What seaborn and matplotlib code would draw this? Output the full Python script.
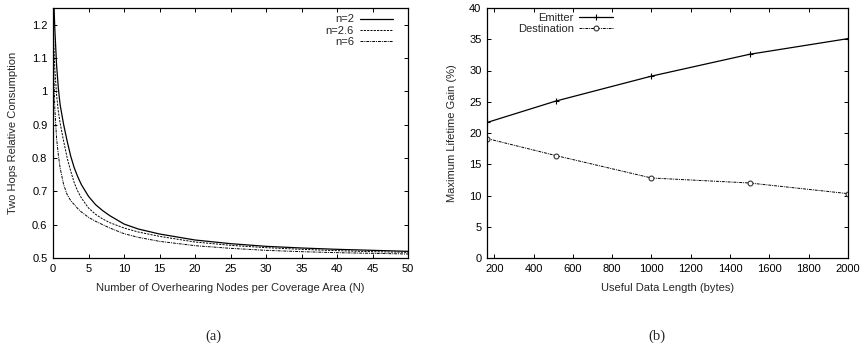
import numpy as np
import pandas as pd
import matplotlib
matplotlib.use("Agg")
import matplotlib.pyplot as plt
import seaborn as sns

# ---------------- data (a) ----------------
N_vals = [0, 0.1, 0.25, 0.5, 0.75, 1, 1.5, 2, 2.5, 3, 3.5, 4, 5, 6, 7, 8, 10, 12,
          15, 20, 25, 30, 35, 40, 45, 50]
cons_n2 = [1.35, 1.28, 1.19, 1.08, 1.01, 0.96, 0.90, 0.85, 0.805, 0.77, 0.743,
           0.72, 0.685, 0.66, 0.642, 0.627, 0.602, 0.587, 0.572, 0.554, 0.543,
           0.535, 0.530, 0.526, 0.523, 0.520]
cons_n26 = [1.25, 1.15, 1.07, 0.99, 0.94, 0.905, 0.85, 0.80, 0.76, 0.725, 0.70,
            0.68, 0.65, 0.631, 0.617, 0.606, 0.59, 0.578, 0.565, 0.548, 0.538,
            0.531, 0.526, 0.522, 0.519, 0.517]
cons_n6 = [1.2, 1.06, 0.95, 0.86, 0.81, 0.77, 0.72, 0.69, 0.672, 0.66, 0.648,
           0.638, 0.622, 0.61, 0.60, 0.59, 0.573, 0.562, 0.55, 0.537, 0.529,
           0.523, 0.519, 0.516, 0.514, 0.512]
series_a = ["n=2", "n=2.6", "n=6"]

# ---------------- data (b) ----------------
data_len = [165, 512, 1000, 1500, 2000]
emitter_gain = [21.7, 25.1, 29.1, 32.6, 35.1]
destination_gain = [19.1, 16.4, 12.8, 12.0, 10.3]

sns.set_theme(style="ticks")
plt.rcParams["font.family"] = ["Liberation Sans", "DejaVu Sans"]
plt.rcParams["font.size"] = 8

fig = plt.figure(figsize=(8.65, 3.58), dpi=100)
ax1 = fig.add_axes([53 / 865, 1 - 258 / 358, 355 / 865, 250 / 358])
ax2 = fig.add_axes([487 / 865, 1 - 258 / 358, 361 / 865, 250 / 358])

# ---- panel (a)
df_a = pd.DataFrame({
    "N": N_vals * 3,
    "val": cons_n2 + cons_n26 + cons_n6,
    "series": [series_a[0]] * len(N_vals) + [series_a[1]] * len(N_vals)
              + [series_a[2]] * len(N_vals),
})
styles_a = {"n=2": ("-", 0.9), "n=2.6": ((0, (2.2, 1.2)), 0.7),
            "n=6": ((0, (3, 1, 1, 1)), 0.7)}
for s in series_a:
    sub = df_a[df_a["series"] == s]
    ls, lw = styles_a[s]
    sns.lineplot(data=sub, x="N", y="val", ax=ax1, color="black", lw=lw,
                 label=s, linestyle=ls, estimator=None, sort=False)
ax1.set_xlim(0, 50)
ax1.set_ylim(0.5, 1.25)
ax1.set_xticks(np.arange(0, 51, 5))
ax1.set_yticks([0.5, 0.6, 0.7, 0.8, 0.9, 1.0, 1.1, 1.2])
ax1.set_yticklabels(["0.5", "0.6", "0.7", "0.8", "0.9", "1", "1.1", "1.2"])
ax1.set_xlabel("Number of Overhearing Nodes per Coverage Area (N)", fontsize=8,
               labelpad=7)
ax1.set_ylabel("Two Hops Relative Consumption", fontsize=8, labelpad=10)
leg1 = ax1.legend(loc="upper right", frameon=False, markerfirst=False,
                  fontsize=8, handlelength=3.0, handletextpad=0.5,
                  labelspacing=0.1, borderaxespad=0,
                  bbox_to_anchor=(0.97, 0.992))
for t in leg1.get_texts():
    t.set_ha("right")

# ---- panel (b)
df_b = pd.DataFrame({"len": data_len * 2,
                     "gain": emitter_gain + destination_gain,
                     "series": ["Emitter"] * 5 + ["Destination"] * 5})
sns.lineplot(data=df_b[df_b.series == "Emitter"], x="len", y="gain", ax=ax2,
             color="black", lw=0.9, marker="+", markersize=4,
             markeredgecolor="black", markeredgewidth=0.8, label="Emitter")
sns.lineplot(data=df_b[df_b.series == "Destination"], x="len", y="gain", ax=ax2,
             color="black", lw=0.7, linestyle=(0, (3, 1, 1, 1)), marker="o",
             markersize=3.5, markerfacecolor="white", markeredgecolor="#333333",
             markeredgewidth=0.8, label="Destination")
ax2.set_xlim(163, 2000)
ax2.set_ylim(0, 40)
ax2.set_xticks(np.arange(200, 2001, 200))
ax2.set_yticks(np.arange(0, 41, 5))
ax2.set_xlabel("Useful Data Length (bytes)", fontsize=8, labelpad=7)
ax2.set_ylabel("Maximum Lifetime Gain (%)", fontsize=8, labelpad=9)
leg2 = ax2.legend(loc="upper right", frameon=False, markerfirst=False,
                  fontsize=8, handlelength=3.0, handletextpad=0.5,
                  labelspacing=0.1, borderaxespad=0,
                  bbox_to_anchor=(0.36, 0.998))

for ax in (ax1, ax2):
    ax.tick_params(direction="in", length=3, width=0.7, top=True, right=True,
                   labelsize=8, pad=4, colors="black")
    for sp in ax.spines.values():
        sp.set_visible(True)
        sp.set_linewidth(0.9)
        sp.set_color("black")

fig.text(213 / 865, 1 - 336 / 358, "(a)", ha="center", va="center",
         fontsize=10.5, family=["Liberation Serif", "DejaVu Serif"])
fig.text(657 / 865, 1 - 336 / 358, "(b)", ha="center", va="center",
         fontsize=10.5, family=["Liberation Serif", "DejaVu Serif"])

fig.savefig("out.png", dpi=100)
